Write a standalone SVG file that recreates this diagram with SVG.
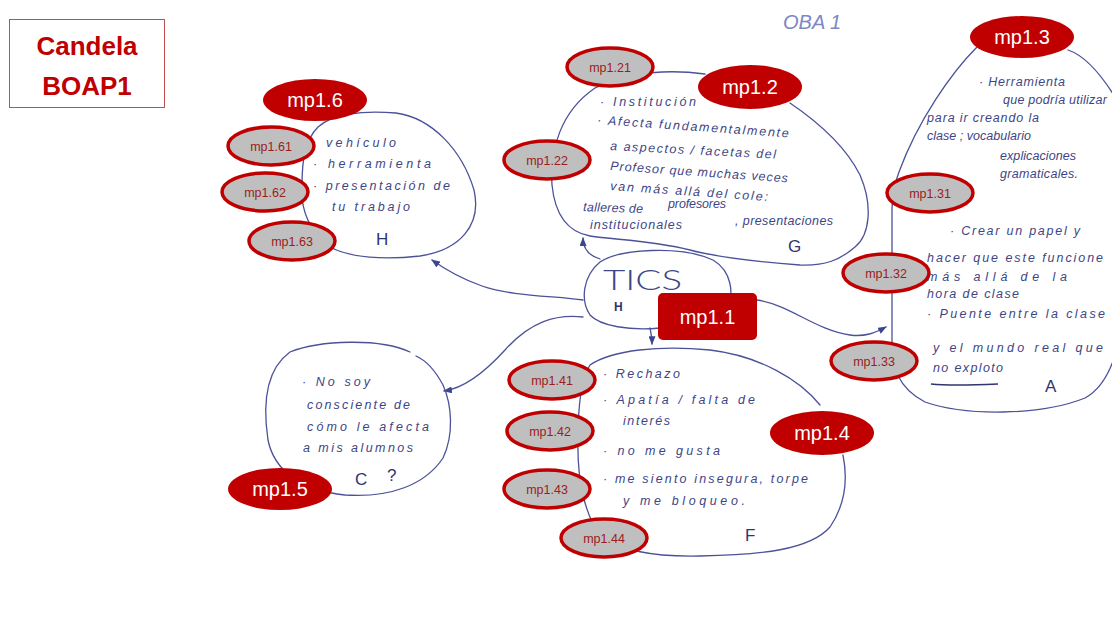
<svg xmlns="http://www.w3.org/2000/svg" width="1112" height="635" viewBox="0 0 1112 635">
  <style>
    .blob { fill: none; stroke: #4b5298; stroke-width: 1.3; stroke-linecap: round; }
    .link { fill: none; stroke: #4b5298; stroke-width: 1.3; stroke-linecap: round; }
    .ink { font-family: "Liberation Sans", "DejaVu Sans", sans-serif; font-style: italic; font-size: 12.5px; fill: #3d4585; }
    .mark { font-family: "Liberation Sans", "DejaVu Sans", sans-serif; font-size: 17px; fill: #2f3570; }
    .main { fill: #c00000; }
    .main-t { font-family: "Liberation Sans", "Open Sans", sans-serif; font-size: 20px; fill: #ffffff; text-anchor: middle; }
    .sub { fill: #bfbfbf; stroke: #c00000; stroke-width: 3.5; }
    .sub-t { font-family: "Liberation Sans", "Open Sans", sans-serif; font-size: 12.5px; fill: #9b1c1c; text-anchor: middle; }
    .title-t { font-family: "Liberation Sans", "Open Sans", sans-serif; font-weight: bold; font-size: 26px; fill: #c00000; text-anchor: middle; }
  </style>
  <defs>
    <marker id="tip" viewBox="0 0 10 8" refX="9" refY="4" markerWidth="9" markerHeight="7" markerUnits="userSpaceOnUse" orient="auto">
      <path d="M0,0 L10,4 L0,8 Z" fill="#3b4590"/>
    </marker>
  </defs>

  <rect width="1112" height="635" fill="#ffffff"/>

  <!-- title card -->
  <g id="title">
    <rect x="9.5" y="19.5" width="155" height="88" fill="#ffffff" stroke="#c0504d" stroke-width="1"/>
    <text class="title-t" x="87" y="55">Candela</text>
    <text class="title-t" x="87" y="95">BOAP1</text>
  </g>

  <text id="page-tag" x="783" y="29" font-family="Liberation Sans, sans-serif" font-style="italic" font-size="20" fill="#7d87c4">OBA 1</text>

  <!-- connectors leaving the central TICS bubble -->
  <g id="connectors">
    <path class="link" d="M583,300 C555,296 510,296 482,286 C462,279 446,270 432,260" marker-end="url(#tip)"/>
    <path class="link" d="M583,317 C555,314 530,322 505,350 C485,372 465,388 444,391" marker-end="url(#tip)"/>
    <path class="link" d="M600,259 C590,256 583,250 583,238" marker-end="url(#tip)"/>
    <path class="link" d="M650,328 C651,333 652,338 652,344" marker-end="url(#tip)"/>
    <path class="link" d="M757,300 C790,305 815,330 850,335 C865,337 875,333 886,327" marker-end="url(#tip)"/>
  </g>

  <!-- central bubble -->
  <g id="node-tics">
    <path class="blob" d="M600,262 C620,249 680,245 713,260 C733,272 733,295 728,305 M660,328 C630,331 600,326 590,315 C580,300 583,276 600,262"/>
    <text x="603" y="290" font-family="Lato, Liberation Sans, sans-serif" font-size="28" font-weight="300" fill="#3d4585" textLength="79" lengthAdjust="spacingAndGlyphs">TICS</text>
    <text x="614" y="311" font-family="Liberation Sans, sans-serif" font-size="12" font-weight="bold" fill="#2f3570">H</text>
  </g>

  <!-- H bubble -->
  <g id="node-h">
    <path class="blob" d="M318,127 C332,114 362,110 396,113 C432,118 462,150 474,190 C482,225 460,250 420,256 C385,260 350,258 330,247 C310,232 300,210 302,185 C302,160 305,140 318,127 Z"/>
    <text class="ink" x="326" y="147" textLength="70" lengthAdjust="spacing">vehículo</text>
    <text class="ink" x="313" y="168" textLength="118" lengthAdjust="spacing">· herramienta</text>
    <text class="ink" x="313" y="190" textLength="137" lengthAdjust="spacing">· presentación de</text>
    <text class="ink" x="332" y="211" textLength="78" lengthAdjust="spacing">tu trabajo</text>
    <text class="mark" x="376" y="245">H</text>
  </g>

  <!-- G bubble -->
  <g id="node-g">
    <path class="blob" d="M595,88 C625,74 660,68 705,74 M790,103 C815,120 845,145 860,175 C873,205 870,235 855,247 C840,260 825,266 800,265 C760,262 720,258 690,250 C650,240 615,240 590,236 C568,232 555,215 552,185 C550,150 560,112 595,88"/>
    <text class="ink" x="600" y="106" textLength="96" lengthAdjust="spacing">· Institución</text>
    <text class="ink" x="597" y="124" textLength="192" lengthAdjust="spacing" transform="rotate(4 597 124)">· Afecta fundamentalmente</text>
    <text class="ink" x="610" y="150" textLength="166" lengthAdjust="spacing" transform="rotate(3 610 150)">a aspectos / facetas del</text>
    <text class="ink" x="610" y="170" textLength="178" lengthAdjust="spacing" transform="rotate(4 610 170)">Profesor que muchas veces</text>
    <text class="ink" x="610" y="190" textLength="158" lengthAdjust="spacing" transform="rotate(4 610 190)">van más allá del cole:</text>
    <text class="ink" x="583" y="211" textLength="60" lengthAdjust="spacing" transform="rotate(2 583 211)">talleres de</text>
    <text class="ink" x="668" y="208" textLength="58" lengthAdjust="spacing">profesores</text>
    <text class="ink" x="735" y="225" textLength="98" lengthAdjust="spacing">, presentaciones</text>
    <text class="ink" x="590" y="229" textLength="92" lengthAdjust="spacing">institucionales</text>
    <text class="mark" x="788" y="252">G</text>
  </g>

  <!-- A bubble -->
  <g id="node-a">
    <path class="blob" d="M977,47 C952,72 918,120 899,172 C894,185 892,195 892,210 L892,340 C892,368 898,388 925,402 C965,416 1040,416 1085,398 C1108,385 1118,355 1122,320 M1068,50 C1086,56 1102,75 1118,102"/>
    <text class="ink" x="979" y="86" textLength="86" lengthAdjust="spacing">· Herramienta</text>
    <text class="ink" x="1003" y="104" textLength="104" lengthAdjust="spacing">que podría utilizar</text>
    <text class="ink" x="927" y="122" textLength="112" lengthAdjust="spacing">para ir creando la</text>
    <text class="ink" x="927" y="140" textLength="104" lengthAdjust="spacing">clase ; vocabulario</text>
    <text class="ink" x="1000" y="160" textLength="76" lengthAdjust="spacing">explicaciones</text>
    <text class="ink" x="1000" y="178" textLength="78" lengthAdjust="spacing">gramaticales.</text>
    <text class="ink" x="950" y="235" textLength="130" lengthAdjust="spacing">· Crear un papel y</text>
    <text class="ink" x="927" y="262" textLength="176" lengthAdjust="spacing">hacer que este funcione</text>
    <text class="ink" x="927" y="281" textLength="140" lengthAdjust="spacing">más allá de la</text>
    <text class="ink" x="927" y="298" textLength="92" lengthAdjust="spacing">hora de clase</text>
    <text class="ink" x="927" y="318" textLength="178" lengthAdjust="spacing">· Puente entre la clase</text>
    <text class="ink" x="933" y="352" textLength="170" lengthAdjust="spacing">y el mundo real que</text>
    <text class="ink" x="933" y="372" textLength="70" lengthAdjust="spacing">no exploto</text>
    <path d="M931,384 C950,386 975,385 998,384" fill="none" stroke="#2f3570" stroke-width="1.5"/>
    <text class="mark" x="1045" y="392" font-size="18">A</text>
  </g>

  <!-- F bubble -->
  <g id="node-f">
    <path class="blob" d="M590,365 C612,350 660,345 710,350 C760,356 800,380 820,405 M843,455 C848,480 845,505 830,527 C810,550 760,555 700,556 C650,557 620,550 600,535 C585,515 577,480 578,440 C578,410 580,380 590,365"/>
    <text class="ink" x="603" y="378" textLength="77" lengthAdjust="spacing">· Rechazo</text>
    <text class="ink" x="603" y="404" textLength="152" lengthAdjust="spacing">· Apatía / falta de</text>
    <text class="ink" x="623" y="425" textLength="47" lengthAdjust="spacing">interés</text>
    <text class="ink" x="603" y="455" textLength="117" lengthAdjust="spacing">· no me gusta</text>
    <text class="ink" x="603" y="483" textLength="205" lengthAdjust="spacing">· me siento insegura, torpe</text>
    <text class="ink" x="623" y="505" textLength="122" lengthAdjust="spacing">y me bloqueo.</text>
    <text class="mark" x="745" y="541" font-size="18">F</text>
  </g>

  <!-- C bubble -->
  <g id="node-c">
    <path class="blob" d="M410,352 C380,338 320,340 290,352 C268,368 262,400 268,440 C274,470 300,490 345,495 C390,498 425,485 443,458 C454,435 452,405 443,385 C435,370 425,360 416,356"/>
    <text class="ink" x="302" y="386" textLength="68" lengthAdjust="spacing">· No soy</text>
    <text class="ink" x="307" y="409" textLength="103" lengthAdjust="spacing">consciente de</text>
    <text class="ink" x="307" y="431" textLength="122" lengthAdjust="spacing">cómo le afecta</text>
    <text class="ink" x="303" y="452" textLength="110" lengthAdjust="spacing">a mis alumnos</text>
    <text class="mark" x="355" y="485" font-size="18">C</text>
    <text class="mark" x="387" y="481" font-size="14">?</text>
  </g>

  <!-- red tags -->
  <g id="tag-mp1-1">
    <rect class="main" x="658" y="293" width="99" height="47" rx="5"/>
    <text class="main-t" x="707.5" y="324">mp1.1</text>
  </g>
  <g id="tag-mp1-2">
    <ellipse class="main" cx="750" cy="87" rx="52" ry="22"/>
    <text class="main-t" x="750" y="94">mp1.2</text>
  </g>
  <g id="tag-mp1-3">
    <ellipse class="main" cx="1022" cy="37" rx="52" ry="21"/>
    <text class="main-t" x="1022" y="44">mp1.3</text>
  </g>
  <g id="tag-mp1-4">
    <ellipse class="main" cx="822" cy="433" rx="52" ry="22"/>
    <text class="main-t" x="822" y="440">mp1.4</text>
  </g>
  <g id="tag-mp1-5">
    <ellipse class="main" cx="280" cy="489" rx="52" ry="21"/>
    <text class="main-t" x="280" y="496">mp1.5</text>
  </g>
  <g id="tag-mp1-6">
    <ellipse class="main" cx="315" cy="100" rx="52" ry="21"/>
    <text class="main-t" x="315" y="107">mp1.6</text>
  </g>

  <!-- grey sub-tags -->
  <g id="tag-mp1-21"><ellipse class="sub" cx="610" cy="67" rx="43" ry="19"/><text class="sub-t" x="610" y="72">mp1.21</text></g>
  <g id="tag-mp1-22"><ellipse class="sub" cx="547" cy="160" rx="43" ry="19"/><text class="sub-t" x="547" y="165">mp1.22</text></g>
  <g id="tag-mp1-31"><ellipse class="sub" cx="930" cy="193" rx="43" ry="19"/><text class="sub-t" x="930" y="198">mp1.31</text></g>
  <g id="tag-mp1-32"><ellipse class="sub" cx="886" cy="273" rx="43" ry="19"/><text class="sub-t" x="886" y="278">mp1.32</text></g>
  <g id="tag-mp1-33"><ellipse class="sub" cx="874" cy="361" rx="43" ry="19"/><text class="sub-t" x="874" y="366">mp1.33</text></g>
  <g id="tag-mp1-41"><ellipse class="sub" cx="552" cy="380" rx="43" ry="19"/><text class="sub-t" x="552" y="385">mp1.41</text></g>
  <g id="tag-mp1-42"><ellipse class="sub" cx="550" cy="431" rx="43" ry="19"/><text class="sub-t" x="550" y="436">mp1.42</text></g>
  <g id="tag-mp1-43"><ellipse class="sub" cx="547" cy="489" rx="43" ry="19"/><text class="sub-t" x="547" y="494">mp1.43</text></g>
  <g id="tag-mp1-44"><ellipse class="sub" cx="604" cy="538" rx="43" ry="19"/><text class="sub-t" x="604" y="543">mp1.44</text></g>
  <g id="tag-mp1-61"><ellipse class="sub" cx="271" cy="146" rx="43" ry="19"/><text class="sub-t" x="271" y="151">mp1.61</text></g>
  <g id="tag-mp1-62"><ellipse class="sub" cx="265" cy="192" rx="43" ry="19"/><text class="sub-t" x="265" y="197">mp1.62</text></g>
  <g id="tag-mp1-63"><ellipse class="sub" cx="292" cy="241" rx="43" ry="19"/><text class="sub-t" x="292" y="246">mp1.63</text></g>
</svg>
